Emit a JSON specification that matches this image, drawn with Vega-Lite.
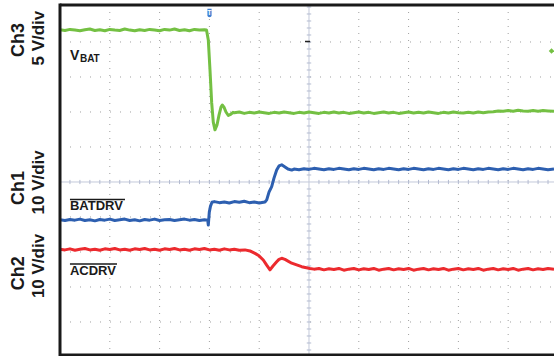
{
"$schema": "https://vega.github.io/schema/vega-lite/v6.json",
"width": 494, "height": 350,
"autosize": {"type": "none"},
"padding": {"left": 60, "top": 5, "right": 0, "bottom": 1},
"background": "white",
"config": {"view": {"stroke": null}},
"datasets": {
"traces": [
{"c":"Ch3","t":-5.0,"v":4.35},{"c":"Ch3","t":-4.9,"v":4.33},{"c":"Ch3","t":-4.8,"v":4.36},{"c":"Ch3","t":-4.7,"v":4.34},{"c":"Ch3","t":-4.6,"v":4.32},{"c":"Ch3","t":-4.5,"v":4.35},{"c":"Ch3","t":-4.4,"v":4.37},{"c":"Ch3","t":-4.3,"v":4.33},{"c":"Ch3","t":-4.2,"v":4.35},{"c":"Ch3","t":-4.1,"v":4.32},{"c":"Ch3","t":-4.0,"v":4.36},{"c":"Ch3","t":-3.9,"v":4.34},{"c":"Ch3","t":-3.8,"v":4.33},{"c":"Ch3","t":-3.7,"v":4.37},{"c":"Ch3","t":-3.6,"v":4.34},{"c":"Ch3","t":-3.5,"v":4.32},{"c":"Ch3","t":-3.4,"v":4.35},{"c":"Ch3","t":-3.3,"v":4.33},{"c":"Ch3","t":-3.2,"v":4.36},{"c":"Ch3","t":-3.1,"v":4.34},{"c":"Ch3","t":-3.0,"v":4.32},{"c":"Ch3","t":-2.9,"v":4.36},{"c":"Ch3","t":-2.8,"v":4.34},{"c":"Ch3","t":-2.7,"v":4.37},{"c":"Ch3","t":-2.6,"v":4.33},{"c":"Ch3","t":-2.5,"v":4.35},{"c":"Ch3","t":-2.4,"v":4.32},{"c":"Ch3","t":-2.3,"v":4.36},{"c":"Ch3","t":-2.2,"v":4.34},{"c":"Ch3","t":-2.1,"v":4.35},{"c":"Ch3","t":-2.058,"v":4.34},
{"c":"Ch3","t":-2.022,"v":4.06},{"c":"Ch3","t":-1.988,"v":3.2},{"c":"Ch3","t":-1.954,"v":2.26},{"c":"Ch3","t":-1.922,"v":1.71},{"c":"Ch3","t":-1.888,"v":1.49},{"c":"Ch3","t":-1.847,"v":1.63},{"c":"Ch3","t":-1.807,"v":1.91},{"c":"Ch3","t":-1.767,"v":2.14},{"c":"Ch3","t":-1.741,"v":2.2},{"c":"Ch3","t":-1.707,"v":2.14},{"c":"Ch3","t":-1.667,"v":2.0},{"c":"Ch3","t":-1.62,"v":1.9},{"c":"Ch3","t":-1.566,"v":1.94},{"c":"Ch3","t":-1.526,"v":1.99},
{"c":"Ch3","t":-1.5,"v":1.98},{"c":"Ch3","t":-1.4,"v":2.0},{"c":"Ch3","t":-1.3,"v":1.96},{"c":"Ch3","t":-1.2,"v":1.99},{"c":"Ch3","t":-1.1,"v":1.97},{"c":"Ch3","t":-1.0,"v":2.0},{"c":"Ch3","t":-0.9,"v":1.98},{"c":"Ch3","t":-0.8,"v":1.96},{"c":"Ch3","t":-0.7,"v":1.99},{"c":"Ch3","t":-0.6,"v":1.97},{"c":"Ch3","t":-0.5,"v":2.0},{"c":"Ch3","t":-0.4,"v":1.98},{"c":"Ch3","t":-0.3,"v":1.96},{"c":"Ch3","t":-0.2,"v":1.99},{"c":"Ch3","t":-0.1,"v":1.97},{"c":"Ch3","t":0.0,"v":2.0},{"c":"Ch3","t":0.1,"v":1.98},{"c":"Ch3","t":0.2,"v":1.96},{"c":"Ch3","t":0.3,"v":1.99},{"c":"Ch3","t":0.4,"v":1.97},{"c":"Ch3","t":0.5,"v":2.0},{"c":"Ch3","t":0.6,"v":1.97},{"c":"Ch3","t":0.7,"v":1.99},{"c":"Ch3","t":0.8,"v":1.96},{"c":"Ch3","t":0.9,"v":1.98},{"c":"Ch3","t":1.0,"v":2.0},{"c":"Ch3","t":1.1,"v":1.97},{"c":"Ch3","t":1.2,"v":1.99},{"c":"Ch3","t":1.3,"v":1.96},{"c":"Ch3","t":1.4,"v":1.98},{"c":"Ch3","t":1.5,"v":2.0},{"c":"Ch3","t":1.6,"v":1.97},{"c":"Ch3","t":1.7,"v":1.99},{"c":"Ch3","t":1.8,"v":1.96},{"c":"Ch3","t":1.9,"v":1.98},{"c":"Ch3","t":2.0,"v":2.0},{"c":"Ch3","t":2.1,"v":1.97},{"c":"Ch3","t":2.2,"v":1.99},{"c":"Ch3","t":2.3,"v":1.97},{"c":"Ch3","t":2.4,"v":2.0},{"c":"Ch3","t":2.5,"v":1.98},{"c":"Ch3","t":2.6,"v":1.96},{"c":"Ch3","t":2.7,"v":1.99},{"c":"Ch3","t":2.8,"v":1.97},{"c":"Ch3","t":2.9,"v":2.0},{"c":"Ch3","t":3.0,"v":1.98},{"c":"Ch3","t":3.1,"v":1.97},{"c":"Ch3","t":3.2,"v":1.99},{"c":"Ch3","t":3.3,"v":1.97},{"c":"Ch3","t":3.4,"v":2.0},{"c":"Ch3","t":3.5,"v":1.98},{"c":"Ch3","t":3.6,"v":2.0},{"c":"Ch3","t":3.7,"v":2.01},{"c":"Ch3","t":3.8,"v":2.03},{"c":"Ch3","t":3.9,"v":2.02},{"c":"Ch3","t":4.0,"v":2.04},{"c":"Ch3","t":4.1,"v":2.02},{"c":"Ch3","t":4.2,"v":2.05},{"c":"Ch3","t":4.3,"v":2.03},{"c":"Ch3","t":4.4,"v":2.02},{"c":"Ch3","t":4.5,"v":2.04},{"c":"Ch3","t":4.6,"v":2.02},{"c":"Ch3","t":4.7,"v":2.04},{"c":"Ch3","t":4.8,"v":2.03},{"c":"Ch3","t":4.92,"v":2.02},
{"c":"Ch1","t":-5.0,"v":-1.08},{"c":"Ch1","t":-4.9,"v":-1.1},{"c":"Ch1","t":-4.8,"v":-1.07},{"c":"Ch1","t":-4.7,"v":-1.09},{"c":"Ch1","t":-4.6,"v":-1.06},{"c":"Ch1","t":-4.5,"v":-1.1},{"c":"Ch1","t":-4.4,"v":-1.08},{"c":"Ch1","t":-4.3,"v":-1.11},{"c":"Ch1","t":-4.2,"v":-1.07},{"c":"Ch1","t":-4.1,"v":-1.09},{"c":"Ch1","t":-4.0,"v":-1.06},{"c":"Ch1","t":-3.9,"v":-1.1},{"c":"Ch1","t":-3.8,"v":-1.08},{"c":"Ch1","t":-3.7,"v":-1.06},{"c":"Ch1","t":-3.6,"v":-1.1},{"c":"Ch1","t":-3.5,"v":-1.08},{"c":"Ch1","t":-3.4,"v":-1.11},{"c":"Ch1","t":-3.3,"v":-1.07},{"c":"Ch1","t":-3.2,"v":-1.09},{"c":"Ch1","t":-3.1,"v":-1.06},{"c":"Ch1","t":-3.0,"v":-1.1},{"c":"Ch1","t":-2.9,"v":-1.08},{"c":"Ch1","t":-2.8,"v":-1.07},{"c":"Ch1","t":-2.7,"v":-1.1},{"c":"Ch1","t":-2.6,"v":-1.08},{"c":"Ch1","t":-2.5,"v":-1.06},{"c":"Ch1","t":-2.4,"v":-1.09},{"c":"Ch1","t":-2.3,"v":-1.07},{"c":"Ch1","t":-2.2,"v":-1.1},{"c":"Ch1","t":-2.1,"v":-1.08},{"c":"Ch1","t":-2.034,"v":-1.09},
{"c":"Ch1","t":-2.022,"v":-1.23},{"c":"Ch1","t":-2.002,"v":-0.86},{"c":"Ch1","t":-1.978,"v":-0.69},{"c":"Ch1","t":-1.948,"v":-0.58},
{"c":"Ch1","t":-1.9,"v":-0.56},{"c":"Ch1","t":-1.8,"v":-0.59},{"c":"Ch1","t":-1.7,"v":-0.57},{"c":"Ch1","t":-1.6,"v":-0.6},{"c":"Ch1","t":-1.5,"v":-0.56},{"c":"Ch1","t":-1.4,"v":-0.58},{"c":"Ch1","t":-1.3,"v":-0.55},{"c":"Ch1","t":-1.2,"v":-0.59},{"c":"Ch1","t":-1.1,"v":-0.57},{"c":"Ch1","t":-1.0,"v":-0.6},{"c":"Ch1","t":-0.884,"v":-0.57},
{"c":"Ch1","t":-0.849,"v":-0.51},{"c":"Ch1","t":-0.803,"v":-0.29},{"c":"Ch1","t":-0.749,"v":-0.13},{"c":"Ch1","t":-0.703,"v":0.11},{"c":"Ch1","t":-0.649,"v":0.34},{"c":"Ch1","t":-0.602,"v":0.46},{"c":"Ch1","t":-0.548,"v":0.49},{"c":"Ch1","t":-0.482,"v":0.43},{"c":"Ch1","t":-0.422,"v":0.37},{"c":"Ch1","t":-0.347,"v":0.34},
{"c":"Ch1","t":-0.3,"v":0.37},{"c":"Ch1","t":-0.2,"v":0.35},{"c":"Ch1","t":-0.1,"v":0.38},{"c":"Ch1","t":0.0,"v":0.36},{"c":"Ch1","t":0.1,"v":0.39},{"c":"Ch1","t":0.2,"v":0.37},{"c":"Ch1","t":0.3,"v":0.35},{"c":"Ch1","t":0.4,"v":0.38},{"c":"Ch1","t":0.5,"v":0.36},{"c":"Ch1","t":0.6,"v":0.39},{"c":"Ch1","t":0.7,"v":0.37},{"c":"Ch1","t":0.8,"v":0.35},{"c":"Ch1","t":0.9,"v":0.38},{"c":"Ch1","t":1.0,"v":0.36},{"c":"Ch1","t":1.1,"v":0.39},{"c":"Ch1","t":1.2,"v":0.37},{"c":"Ch1","t":1.3,"v":0.35},{"c":"Ch1","t":1.4,"v":0.38},{"c":"Ch1","t":1.5,"v":0.36},{"c":"Ch1","t":1.6,"v":0.39},{"c":"Ch1","t":1.7,"v":0.37},{"c":"Ch1","t":1.8,"v":0.35},{"c":"Ch1","t":1.9,"v":0.38},{"c":"Ch1","t":2.0,"v":0.36},{"c":"Ch1","t":2.1,"v":0.39},{"c":"Ch1","t":2.2,"v":0.37},{"c":"Ch1","t":2.3,"v":0.35},{"c":"Ch1","t":2.4,"v":0.38},{"c":"Ch1","t":2.5,"v":0.36},{"c":"Ch1","t":2.6,"v":0.39},{"c":"Ch1","t":2.7,"v":0.37},{"c":"Ch1","t":2.8,"v":0.35},{"c":"Ch1","t":2.9,"v":0.38},{"c":"Ch1","t":3.0,"v":0.36},{"c":"Ch1","t":3.1,"v":0.39},{"c":"Ch1","t":3.2,"v":0.37},{"c":"Ch1","t":3.3,"v":0.35},{"c":"Ch1","t":3.4,"v":0.38},{"c":"Ch1","t":3.5,"v":0.36},{"c":"Ch1","t":3.6,"v":0.39},{"c":"Ch1","t":3.7,"v":0.37},{"c":"Ch1","t":3.8,"v":0.35},{"c":"Ch1","t":3.9,"v":0.38},{"c":"Ch1","t":4.0,"v":0.36},{"c":"Ch1","t":4.1,"v":0.39},{"c":"Ch1","t":4.2,"v":0.37},{"c":"Ch1","t":4.3,"v":0.35},{"c":"Ch1","t":4.4,"v":0.38},{"c":"Ch1","t":4.5,"v":0.36},{"c":"Ch1","t":4.6,"v":0.39},{"c":"Ch1","t":4.7,"v":0.37},{"c":"Ch1","t":4.8,"v":0.35},{"c":"Ch1","t":4.92,"v":0.37},
{"c":"Ch2","t":-5.0,"v":-1.92},{"c":"Ch2","t":-4.9,"v":-1.94},{"c":"Ch2","t":-4.8,"v":-1.91},{"c":"Ch2","t":-4.7,"v":-1.95},{"c":"Ch2","t":-4.6,"v":-1.92},{"c":"Ch2","t":-4.5,"v":-1.9},{"c":"Ch2","t":-4.4,"v":-1.94},{"c":"Ch2","t":-4.3,"v":-1.92},{"c":"Ch2","t":-4.2,"v":-1.95},{"c":"Ch2","t":-4.1,"v":-1.91},{"c":"Ch2","t":-4.0,"v":-1.93},{"c":"Ch2","t":-3.9,"v":-1.9},{"c":"Ch2","t":-3.8,"v":-1.94},{"c":"Ch2","t":-3.7,"v":-1.92},{"c":"Ch2","t":-3.6,"v":-1.95},{"c":"Ch2","t":-3.5,"v":-1.91},{"c":"Ch2","t":-3.4,"v":-1.93},{"c":"Ch2","t":-3.3,"v":-1.9},{"c":"Ch2","t":-3.2,"v":-1.94},{"c":"Ch2","t":-3.1,"v":-1.92},{"c":"Ch2","t":-3.0,"v":-1.95},{"c":"Ch2","t":-2.9,"v":-1.91},{"c":"Ch2","t":-2.8,"v":-1.93},{"c":"Ch2","t":-2.7,"v":-1.9},{"c":"Ch2","t":-2.6,"v":-1.94},{"c":"Ch2","t":-2.5,"v":-1.92},{"c":"Ch2","t":-2.4,"v":-1.95},{"c":"Ch2","t":-2.3,"v":-1.91},{"c":"Ch2","t":-2.2,"v":-1.93},{"c":"Ch2","t":-2.1,"v":-1.9},{"c":"Ch2","t":-2.0,"v":-1.94},{"c":"Ch2","t":-1.9,"v":-1.92},{"c":"Ch2","t":-1.8,"v":-1.95},{"c":"Ch2","t":-1.7,"v":-1.91},{"c":"Ch2","t":-1.6,"v":-1.94},{"c":"Ch2","t":-1.5,"v":-1.92},{"c":"Ch2","t":-1.4,"v":-1.95},{"c":"Ch2","t":-1.285,"v":-1.94},
{"c":"Ch2","t":-1.185,"v":-1.97},{"c":"Ch2","t":-1.084,"v":-2.04},{"c":"Ch2","t":-1.004,"v":-2.11},{"c":"Ch2","t":-0.918,"v":-2.23},{"c":"Ch2","t":-0.853,"v":-2.37},{"c":"Ch2","t":-0.783,"v":-2.51},{"c":"Ch2","t":-0.723,"v":-2.4},{"c":"Ch2","t":-0.649,"v":-2.28},{"c":"Ch2","t":-0.602,"v":-2.21},{"c":"Ch2","t":-0.548,"v":-2.18},{"c":"Ch2","t":-0.482,"v":-2.21},{"c":"Ch2","t":-0.347,"v":-2.32},{"c":"Ch2","t":-0.147,"v":-2.42},{"c":"Ch2","t":0.02,"v":-2.47},
{"c":"Ch2","t":0.1,"v":-2.49},{"c":"Ch2","t":0.2,"v":-2.47},{"c":"Ch2","t":0.3,"v":-2.51},{"c":"Ch2","t":0.4,"v":-2.48},{"c":"Ch2","t":0.5,"v":-2.5},{"c":"Ch2","t":0.6,"v":-2.47},{"c":"Ch2","t":0.7,"v":-2.52},{"c":"Ch2","t":0.8,"v":-2.49},{"c":"Ch2","t":0.9,"v":-2.47},{"c":"Ch2","t":1.0,"v":-2.51},{"c":"Ch2","t":1.1,"v":-2.48},{"c":"Ch2","t":1.2,"v":-2.5},{"c":"Ch2","t":1.3,"v":-2.47},{"c":"Ch2","t":1.4,"v":-2.52},{"c":"Ch2","t":1.5,"v":-2.49},{"c":"Ch2","t":1.6,"v":-2.47},{"c":"Ch2","t":1.7,"v":-2.51},{"c":"Ch2","t":1.8,"v":-2.48},{"c":"Ch2","t":1.9,"v":-2.5},{"c":"Ch2","t":2.0,"v":-2.47},{"c":"Ch2","t":2.1,"v":-2.52},{"c":"Ch2","t":2.2,"v":-2.49},{"c":"Ch2","t":2.3,"v":-2.47},{"c":"Ch2","t":2.4,"v":-2.51},{"c":"Ch2","t":2.5,"v":-2.48},{"c":"Ch2","t":2.6,"v":-2.5},{"c":"Ch2","t":2.7,"v":-2.47},{"c":"Ch2","t":2.8,"v":-2.52},{"c":"Ch2","t":2.9,"v":-2.49},{"c":"Ch2","t":3.0,"v":-2.47},{"c":"Ch2","t":3.1,"v":-2.51},{"c":"Ch2","t":3.2,"v":-2.48},{"c":"Ch2","t":3.3,"v":-2.5},{"c":"Ch2","t":3.4,"v":-2.47},{"c":"Ch2","t":3.5,"v":-2.52},{"c":"Ch2","t":3.6,"v":-2.49},{"c":"Ch2","t":3.7,"v":-2.47},{"c":"Ch2","t":3.8,"v":-2.51},{"c":"Ch2","t":3.9,"v":-2.48},{"c":"Ch2","t":4.0,"v":-2.5},{"c":"Ch2","t":4.1,"v":-2.47},{"c":"Ch2","t":4.2,"v":-2.52},{"c":"Ch2","t":4.3,"v":-2.49},{"c":"Ch2","t":4.4,"v":-2.47},{"c":"Ch2","t":4.5,"v":-2.51},{"c":"Ch2","t":4.6,"v":-2.48},{"c":"Ch2","t":4.7,"v":-2.5},{"c":"Ch2","t":4.8,"v":-2.47},{"c":"Ch2","t":4.92,"v":-2.49}
],
"sidelabels": [
{"t":-5.833,"v":4.06,"text":"Ch3","size":18},
{"t":-5.422,"v":4.11,"text":"5 V/div","size":17},
{"t":-5.833,"v":-0.17,"text":"Ch1","size":18},
{"t":-5.422,"v":-0.01,"text":"10 V/div","size":17},
{"t":-5.833,"v":-2.61,"text":"Ch2","size":18},
{"t":-5.422,"v":-2.4,"text":"10 V/div","size":17}
],
"inlabels": [
{"t":-4.8,"v":3.49,"text":"V","size":14},
{"t":-4.6,"v":3.43,"text":"BAT","size":10},
{"t":-4.8,"v":-0.8,"text":"BATDRV","size":13},
{"t":-4.8,"v":-2.66,"text":"ACDRV","size":13}
],
"overlines": [
{"t":-4.8,"t2":-3.695,"v":-0.5},
{"t":-4.8,"t2":-3.855,"v":-2.343}
]
},
"layer": [
{"data": {"values": [-4,-3,-2,-1,1,2,3,4]},
 "mark": {"type": "rule", "color": "#a0a0a0", "strokeWidth": 1, "strokeDash": [1, 6]},
 "encoding": {
  "x": {"field": "data", "type": "quantitative", "scale": {"domain": [-5, 4.92], "nice": false, "zero": false}, "axis": null},
  "y": {"datum": 5.057, "type": "quantitative", "scale": {"domain": [-4.943, 5.057], "nice": false, "zero": false}, "axis": null},
  "y2": {"datum": -4.943}}},
{"data": {"values": [-4,-3,-2,-1,1,2,3,4]},
 "mark": {"type": "rule", "color": "#a0a0a0", "strokeWidth": 1, "strokeDash": [1, 9]},
 "encoding": {
  "y": {"field": "data", "type": "quantitative", "scale": {"domain": [-4.943, 5.057], "nice": false, "zero": false}, "axis": null},
  "x": {"datum": -5, "type": "quantitative", "scale": {"domain": [-5, 4.92], "nice": false, "zero": false}, "axis": null},
  "x2": {"datum": 4.92}}},
{"data": {"values": [0]},
 "mark": {"type": "rule", "color": "#c3c9da", "strokeWidth": 1},
 "encoding": {
  "x": {"field": "data", "type": "quantitative", "scale": {"domain": [-5, 4.92], "nice": false, "zero": false}, "axis": null},
  "y": {"datum": 5.057, "type": "quantitative", "scale": {"domain": [-4.943, 5.057], "nice": false, "zero": false}, "axis": null},
  "y2": {"datum": -4.943}}},
{"data": {"values": [0]},
 "mark": {"type": "rule", "color": "#c3c9da", "strokeWidth": 1},
 "encoding": {
  "y": {"field": "data", "type": "quantitative", "scale": {"domain": [-4.943, 5.057], "nice": false, "zero": false}, "axis": null},
  "x": {"datum": -5, "type": "quantitative", "scale": {"domain": [-5, 4.92], "nice": false, "zero": false}, "axis": null},
  "x2": {"datum": 4.92}}},
{"data": {"values": [-4.8,-4.6,-4.4,-4.2,-4,-3.8,-3.6,-3.4,-3.2,-3,-2.8,-2.6,-2.4,-2.2,-2,-1.8,-1.6,-1.4,-1.2,-1,-0.8,-0.6,-0.4,-0.2,0.2,0.4,0.6,0.8,1,1.2,1.4,1.6,1.8,2,2.2,2.4,2.6,2.8,3,3.2,3.4,3.6,3.8,4,4.2,4.4,4.6,4.8]},
 "mark": {"type": "rule", "color": "#b4bbd0", "strokeWidth": 1},
 "encoding": {
  "x": {"field": "data", "type": "quantitative", "scale": {"domain": [-5, 4.92], "nice": false, "zero": false}, "axis": null},
  "y": {"datum": 0.06, "type": "quantitative", "scale": {"domain": [-4.943, 5.057], "nice": false, "zero": false}, "axis": null},
  "y2": {"datum": -0.06}}},
{"data": {"values": [-4.8,-4.6,-4.4,-4.2,-4,-3.8,-3.6,-3.4,-3.2,-3,-2.8,-2.6,-2.4,-2.2,-2,-1.8,-1.6,-1.4,-1.2,-1,-0.8,-0.6,-0.4,-0.2,0.2,0.4,0.6,0.8,1,1.2,1.4,1.6,1.8,2,2.2,2.4,2.6,2.8,3,3.2,3.4,3.6,3.8,4,4.2,4.4,4.6,4.8,5]},
 "mark": {"type": "rule", "color": "#b4bbd0", "strokeWidth": 1},
 "encoding": {
  "y": {"field": "data", "type": "quantitative", "scale": {"domain": [-4.943, 5.057], "nice": false, "zero": false}, "axis": null},
  "x": {"datum": -0.045, "type": "quantitative", "scale": {"domain": [-5, 4.92], "nice": false, "zero": false}, "axis": null},
  "x2": {"datum": 0.045}}},
{"data": {"name": "traces"},
 "mark": {"type": "line", "strokeWidth": 3, "strokeJoin": "round"},
 "encoding": {
  "x": {"field": "t", "type": "quantitative", "scale": {"domain": [-5, 4.92], "nice": false, "zero": false}, "axis": null},
  "y": {"field": "v", "type": "quantitative", "scale": {"domain": [-4.943, 5.057], "nice": false, "zero": false}, "axis": null},
  "color": {"field": "c", "type": "nominal", "scale": {"domain": ["Ch3", "Ch1", "Ch2"], "range": ["#74c043", "#2d5fb0", "#ec2a2e"]}, "legend": null},
  "order": {"field": "t", "type": "quantitative"}}},
{"data": {"values": [{"a": -5, "b": 4.92, "y": 5.057}, {"a": -5, "b": 4.92, "y": -4.943}]},
 "mark": {"type": "rule", "color": "#1a1a1a", "strokeWidth": 3},
 "encoding": {
  "x": {"field": "a", "type": "quantitative", "scale": {"domain": [-5, 4.92], "nice": false, "zero": false}, "axis": null},
  "x2": {"field": "b"},
  "y": {"field": "y", "type": "quantitative", "scale": {"domain": [-4.943, 5.057], "nice": false, "zero": false}, "axis": null}}},
{"data": {"values": [{"x": -5, "a": 5.1, "b": -4.99}]},
 "mark": {"type": "rule", "color": "#1a1a1a", "strokeWidth": 3},
 "encoding": {
  "x": {"field": "x", "type": "quantitative", "scale": {"domain": [-5, 4.92], "nice": false, "zero": false}, "axis": null},
  "y": {"field": "a", "type": "quantitative", "scale": {"domain": [-4.943, 5.057], "nice": false, "zero": false}, "axis": null},
  "y2": {"field": "b"}}},
{"data": {"name": "sidelabels"},
 "mark": {"type": "text", "angle": 270, "align": "center", "baseline": "middle", "font": "Liberation Sans", "fontWeight": "bold", "color": "#1a1a1a"},
 "encoding": {
  "x": {"field": "t", "type": "quantitative", "scale": {"domain": [-5, 4.92], "nice": false, "zero": false}, "axis": null},
  "y": {"field": "v", "type": "quantitative", "scale": {"domain": [-4.943, 5.057], "nice": false, "zero": false}, "axis": null},
  "text": {"field": "text"},
  "size": {"field": "size", "type": "quantitative", "scale": null}}},
{"data": {"name": "inlabels"},
 "mark": {"type": "text", "align": "left", "baseline": "alphabetic", "font": "Liberation Sans", "fontWeight": "bold", "color": "#1a1a1a"},
 "encoding": {
  "x": {"field": "t", "type": "quantitative", "scale": {"domain": [-5, 4.92], "nice": false, "zero": false}, "axis": null},
  "y": {"field": "v", "type": "quantitative", "scale": {"domain": [-4.943, 5.057], "nice": false, "zero": false}, "axis": null},
  "text": {"field": "text"},
  "size": {"field": "size", "type": "quantitative", "scale": null}}},
{"data": {"name": "overlines"},
 "mark": {"type": "rule", "color": "#1a1a1a", "strokeWidth": 1.3},
 "encoding": {
  "x": {"field": "t", "type": "quantitative", "scale": {"domain": [-5, 4.92], "nice": false, "zero": false}, "axis": null},
  "x2": {"field": "t2"},
  "y": {"field": "v", "type": "quantitative", "scale": {"domain": [-4.943, 5.057], "nice": false, "zero": false}, "axis": null}}},
{"data": {"values": [{"t": -0.08, "t2": 0.02, "v": 4.014}]},
 "mark": {"type": "rule", "color": "#222222", "strokeWidth": 1.5},
 "encoding": {
  "x": {"field": "t", "type": "quantitative", "scale": {"domain": [-5, 4.92], "nice": false, "zero": false}, "axis": null},
  "x2": {"field": "t2"},
  "y": {"field": "v", "type": "quantitative", "scale": {"domain": [-4.943, 5.057], "nice": false, "zero": false}, "axis": null}}},
{"data": {"values": [{"t": -1.998, "v": 4.83}]},
 "mark": {"type": "point", "shape": "M-0.5,-1L0.5,-1L0.5,0.6Q0.5,1,0,1Q-0.5,1,-0.5,0.6Z", "filled": true, "size": 70, "color": "#3f7fd2", "opacity": 1},
 "encoding": {
  "x": {"field": "t", "type": "quantitative", "scale": {"domain": [-5, 4.92], "nice": false, "zero": false}, "axis": null},
  "y": {"field": "v", "type": "quantitative", "scale": {"domain": [-4.943, 5.057], "nice": false, "zero": false}, "axis": null}}},
{"data": {"values": [{"t": -1.998, "v": 4.83, "text": "T"}]},
 "mark": {"type": "text", "color": "white", "fontSize": 7, "fontWeight": "bold", "align": "center", "baseline": "middle", "font": "Liberation Sans"},
 "encoding": {
  "x": {"field": "t", "type": "quantitative", "scale": {"domain": [-5, 4.92], "nice": false, "zero": false}, "axis": null},
  "y": {"field": "v", "type": "quantitative", "scale": {"domain": [-4.943, 5.057], "nice": false, "zero": false}, "axis": null},
  "text": {"field": "text"}}},
{"data": {"values": [{"t": 4.87, "v": 3.74}]},
 "mark": {"type": "point", "shape": "diamond", "filled": true, "size": 30, "color": "#74c043", "opacity": 1},
 "encoding": {
  "x": {"field": "t", "type": "quantitative", "scale": {"domain": [-5, 4.92], "nice": false, "zero": false}, "axis": null},
  "y": {"field": "v", "type": "quantitative", "scale": {"domain": [-4.943, 5.057], "nice": false, "zero": false}, "axis": null}}}
]
}
